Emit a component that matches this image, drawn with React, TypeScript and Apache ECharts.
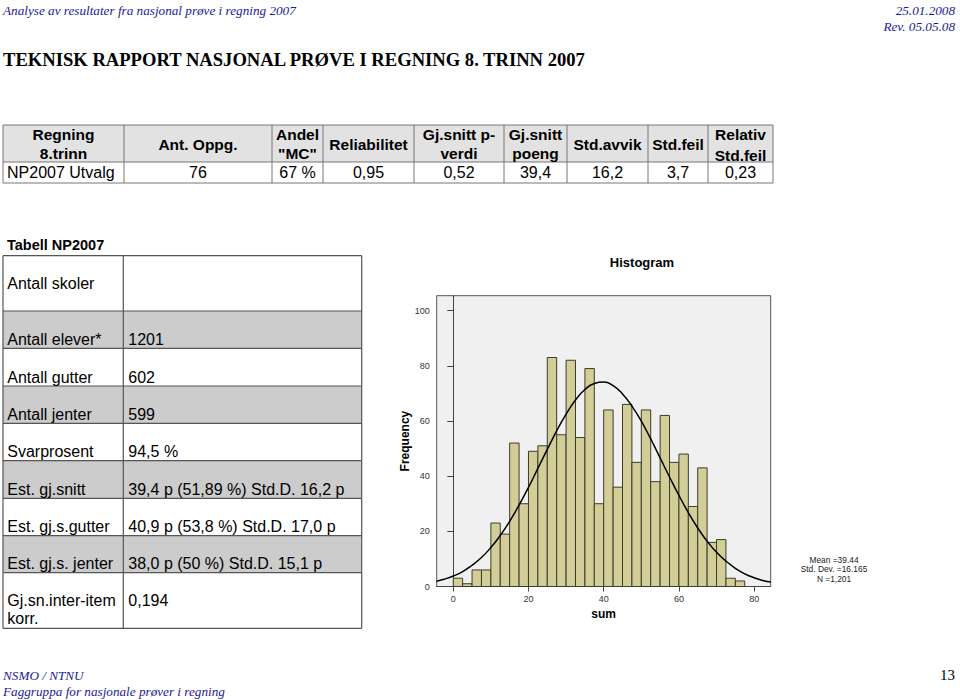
import React, { useEffect, useRef } from "react";
import * as echarts from "echarts";

// ---- Data ----
const HEADER_LEFT = "Analyse av resultater fra nasjonal prøve i regning 2007";
const HEADER_RIGHT = ["25.01.2008", "Rev. 05.05.08"];
const TITLE = "TEKNISK RAPPORT NASJONAL PRØVE I REGNING 8. TRINN 2007";
const FOOTER_LEFT = ["NSMO / NTNU", "Faggruppa for nasjonale prøver i regning"];
const PAGE_NO = "13";

const TOP_HEADERS = [
  ["Regning", "8.trinn"],
  ["Ant. Oppg."],
  ["Andel", "\"MC\""],
  ["Reliabilitet"],
  ["Gj.snitt p-", "verdi"],
  ["Gj.snitt", "poeng"],
  ["Std.avvik"],
  ["Std.feil"],
  ["Relativ", "Std.feil"],
];
const TOP_VALUES = ["NP2007 Utvalg", "76", "67 %", "0,95", "0,52", "39,4", "16,2", "3,7", "0,23"];

const LEFT_TITLE = "Tabell NP2007";
const LEFT_LABELS = [
  ["Antall skoler"],
  ["Antall elever*"],
  ["Antall gutter"],
  ["Antall jenter"],
  ["Svarprosent"],
  ["Est. gj.snitt"],
  ["Est. gj.s.gutter"],
  ["Est. gj.s. jenter"],
  ["Gj.sn.inter-item", "korr."],
];
const LEFT_VALUES = [
  "",
  "1201",
  "602",
  "599",
  "94,5 %",
  "39,4 p (51,89 %) Std.D. 16,2 p",
  "40,9 p (53,8 %) Std.D. 17,0 p",
  "38,0 p (50 %) Std.D. 15,1 p",
  "0,194",
];

const HIST_TITLE = "Histogram";
const BIN_WIDTH = 2.5;
const COUNTS = [3, 1, 6, 6, 23, 19, 52, 30, 49, 51, 83, 55, 82, 54, 79, 30, 64, 36, 66, 45, 64, 38, 62, 45, 48, 29, 43, 16, 17, 3, 2];
const CURVE_X = [-4.4, -2.5, 0, 2.5, 5, 7.5, 10, 12.5, 15, 17.5, 20, 22.5, 25, 27.5, 30, 32.5, 35, 37.5, 40, 42.5, 45, 47.5, 50, 52.5, 55, 57.5, 60, 62.5, 65, 67.5, 70, 72.5, 75, 77.5, 80, 82.5, 84.4];
const CURVE_Y = [1.9, 2.6, 3.8, 5.4, 7.7, 10.5, 14.1, 18.5, 23.6, 29.5, 35.9, 42.8, 49.7, 56.4, 62.5, 67.6, 71.4, 73.6, 74.1, 72.8, 69.8, 65.4, 59.9, 53.5, 46.6, 39.7, 33.0, 26.8, 21.2, 16.4, 12.4, 9.2, 6.6, 4.6, 3.2, 2.1, 1.6];
const X_TICKS = [0, 20, 40, 60, 80];
const Y_TICKS = [0, 20, 40, 60, 80, 100];
const STATS = ["Mean =39.44", "Std. Dev. =16.165", "N =1,201"];

// ---- Layout ----
const SANS = '"Liberation Sans", Arial, sans-serif';
const SERIF = '"Liberation Serif", "Times New Roman", serif';
const BLUE = "#1a1a99";

const TOP_COLS = [3, 124, 272, 323, 414, 504, 567, 648, 708, 773];
const TOP_ROWS = [125, 162, 183];
const LEFT_COLS = [3, 123.3, 361.7];
const LEFT_ROWS = [255.7, 311, 348.3, 386, 423.3, 460.7, 498.3, 535.7, 572.7, 628.3];

function text(x: number, y: number, t: string, font: string, fill = "#000", align = "left", valign = "middle") {
  return {
    type: "text",
    x,
    y,
    silent: true,
    style: { text: t, font, fill, textAlign: align, textVerticalAlign: valign },
  };
}
function line(x1: number, y1: number, x2: number, y2: number, stroke: string, lw = 1) {
  return { type: "line", silent: true, shape: { x1, y1, x2, y2 }, style: { stroke, lineWidth: lw } };
}

function buildGraphics() {
  const g: any[] = [];
  // header/footer
  g.push(text(3, 10, HEADER_LEFT, `italic 13.2px ${SERIF}`, BLUE));
  g.push(text(955, 10, HEADER_RIGHT[0], `italic 13.2px ${SERIF}`, BLUE, "right"));
  g.push(text(955, 26, HEADER_RIGHT[1], `italic 13.2px ${SERIF}`, BLUE, "right"));
  g.push(text(3, 59, TITLE, `bold 18.6px ${SERIF}`, "#000"));
  g.push(text(3, 675, FOOTER_LEFT[0], `italic 13.2px ${SERIF}`, BLUE));
  g.push(text(3, 691, FOOTER_LEFT[1], `italic 13.2px ${SERIF}`, BLUE));
  g.push(text(955, 675, PAGE_NO, `15px ${SERIF}`, "#000", "right"));

  // top table
  g.push({
    type: "rect",
    silent: true,
    shape: { x: TOP_COLS[0], y: TOP_ROWS[0], width: TOP_COLS[9] - TOP_COLS[0], height: TOP_ROWS[1] - TOP_ROWS[0] },
    style: { fill: "#e2e2e2" },
  });
  for (const y of TOP_ROWS) g.push(line(TOP_COLS[0], y, TOP_COLS[9], y, "#777"));
  for (const x of TOP_COLS) g.push(line(x, TOP_ROWS[0], x, TOP_ROWS[2], "#777"));
  TOP_HEADERS.forEach((h, i) => {
    const cx = (TOP_COLS[i] + TOP_COLS[i + 1]) / 2;
    if (h.length === 1) g.push(text(cx, 144, h[0], `bold 15.5px ${SANS}`, "#000", "center"));
    else {
      const last = i === TOP_HEADERS.length - 1;
      g.push(text(cx, 134, h[0], `bold 15.5px ${SANS}`, "#000", "center"));
      g.push(text(cx, last ? 155 : 153, h[1], `bold 15.5px ${SANS}`, "#000", "center"));
    }
  });
  TOP_VALUES.forEach((v, i) => {
    if (i === 0) g.push(text(7, 172.5, v, `16px ${SANS}`));
    else g.push(text((TOP_COLS[i] + TOP_COLS[i + 1]) / 2, 172.5, v, `16px ${SANS}`, "#000", "center"));
  });

  // left table
  g.push(text(7, 245, LEFT_TITLE, `bold 14.5px ${SANS}`));
  LEFT_LABELS.forEach((_, i) => {
    if (i % 2 === 1) {
      g.push({
        type: "rect",
        silent: true,
        shape: { x: LEFT_COLS[0], y: LEFT_ROWS[i], width: LEFT_COLS[2] - LEFT_COLS[0], height: LEFT_ROWS[i + 1] - LEFT_ROWS[i] },
        style: { fill: "#cccccc" },
      });
    }
  });
  for (const y of LEFT_ROWS) g.push(line(LEFT_COLS[0], y, LEFT_COLS[2], y, "#555", 1.2));
  for (const x of LEFT_COLS) g.push(line(x, LEFT_ROWS[0], x, LEFT_ROWS[LEFT_ROWS.length - 1], "#555", 1.2));
  LEFT_LABELS.forEach((lab, i) => {
    const top = LEFT_ROWS[i];
    const bottom = LEFT_ROWS[i + 1];
    let y = bottom - 9;
    if (i === 0) y = (top + bottom) / 2;
    if (lab.length === 2) {
      g.push(text(7.3, 600.7, lab[0], `16px ${SANS}`));
      g.push(text(7.3, 618, lab[1], `16px ${SANS}`));
      g.push(text(128.3, 600.7, LEFT_VALUES[i], `16px ${SANS}`));
    } else {
      g.push(text(7.3, y, lab[0], `16px ${SANS}`));
      if (LEFT_VALUES[i]) g.push(text(128.3, y, LEFT_VALUES[i], `16px ${SANS}`));
    }
  });

  // histogram title & stats
  g.push(text(642, 262.5, HIST_TITLE, `bold 13px ${SANS}`, "#000", "center"));
  STATS.forEach((s, i) => g.push(text(834, 560 + i * 9.4, s, `8.4px ${SANS}`, "#222", "center")));
  return g;
}

export default function App() {
  const ref = useRef<HTMLDivElement>(null);
  useEffect(() => {
    if (!ref.current) return;
    const chart = echarts.init(ref.current, undefined, { renderer: "svg" });
    const bars = COUNTS.map((c, i) => [i * BIN_WIDTH, (i + 1) * BIN_WIDTH, c]);
    const curve = CURVE_X.map((x, i) => [x, CURVE_Y[i]]);
    chart.setOption({
      animation: false,
      backgroundColor: "#ffffff",
      grid: {
        left: 436.7,
        top: 295.7,
        width: 334,
        height: 290.8,
        show: true,
        backgroundColor: "#f0f0f0",
        borderColor: "#555",
        borderWidth: 1,
      },
      xAxis: {
        type: "value",
        min: -4.4,
        max: 84.4,
        name: "sum",
        nameLocation: "middle",
        nameGap: 21,
        nameTextStyle: { fontFamily: SANS, fontWeight: "bold", fontSize: 12, color: "#000" },
        axisLine: { show: true, onZero: false, lineStyle: { color: "#444", width: 1 } },
        axisTick: { show: true, customValues: X_TICKS, length: 5, lineStyle: { color: "#444" } },
        axisLabel: { customValues: X_TICKS, fontSize: 9, fontFamily: SANS, color: "#333", margin: 8 },
        splitLine: { show: false },
      },
      yAxis: {
        type: "value",
        min: 0,
        max: 105.4,
        name: "Frequency",
        nameLocation: "middle",
        nameGap: 23,
        nameTextStyle: { fontFamily: SANS, fontWeight: "bold", fontSize: 12, color: "#000" },
        axisLine: { show: true, lineStyle: { color: "#444", width: 1 } },
        axisTick: { show: true, customValues: Y_TICKS, length: 6, lineStyle: { color: "#444" } },
        axisLabel: { customValues: Y_TICKS, fontSize: 9, fontFamily: SANS, color: "#333", margin: 7 },
        splitLine: { show: false },
      },
      graphic: { elements: buildGraphics() },
      series: [
        {
          type: "custom",
          data: bars,
          encode: { x: [0, 1], y: 2 },
          z: 2,
          renderItem: (params: any, api: any) => {
            const p1 = api.coord([api.value(0), api.value(2)]);
            const p2 = api.coord([api.value(1), 0]);
            return {
              type: "rect",
              shape: { x: p1[0], y: p1[1], width: p2[0] - p1[0], height: p2[1] - p1[1] },
              style: { fill: "#d3ce97", stroke: "#3c3c2c", lineWidth: 1 },
            };
          },
        },
        {
          type: "line",
          data: curve,
          smooth: true,
          showSymbol: false,
          z: 3,
          lineStyle: { color: "#000", width: 1.5 },
        },
      ],
    });
    return () => chart.dispose();
  }, []);
  return <div ref={ref} style={{ position: "absolute", left: 0, top: 0, width: 960, height: 700 }} />;
}
